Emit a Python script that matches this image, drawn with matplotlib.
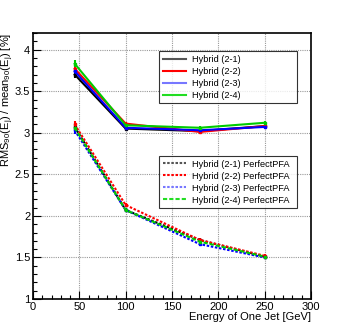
import matplotlib
matplotlib.use("Agg")
import matplotlib.pyplot as plt
from matplotlib.ticker import MultipleLocator, FuncFormatter
from matplotlib.lines import Line2D

plt.rcParams['font.family'] = ['Liberation Sans', 'DejaVu Sans']
plt.rcParams['mathtext.fontset'] = 'custom'
plt.rcParams['mathtext.rm'] = 'Liberation Sans'
plt.rcParams['mathtext.it'] = 'Liberation Sans'
plt.rcParams['mathtext.default'] = 'regular'

energy = [45, 100, 180, 250]

hybrid_labels = ["Hybrid (2-1)", "Hybrid (2-2)", "Hybrid (2-3)", "Hybrid (2-4)"]
hybrid_values = [
    [3.70, 3.05, 3.02, 3.08],
    [3.77, 3.11, 3.01, 3.08],
    [3.74, 3.06, 3.03, 3.07],
    [3.83, 3.09, 3.06, 3.12],
]
hybrid_err = [0.04, 0.02, 0.02, 0.02]

pfa_labels = ["Hybrid (2-1) PerfectPFA", "Hybrid (2-2) PerfectPFA",
              "Hybrid (2-3) PerfectPFA", "Hybrid (2-4) PerfectPFA"]
pfa_values = [
    [3.07, 2.07, 1.71, 1.51],
    [3.10, 2.13, 1.71, 1.52],
    [3.03, 2.07, 1.66, 1.50],
    [3.06, 2.07, 1.69, 1.51],
]
pfa_err = [0.04, 0.02, 0.02, 0.02]

colors = ["black", "red", "blue", "#00cc00"]
legend_colors = ["#555555", "red", "#7777ff", "#22dd22"]
dashes = [(1.2, 0.8), (1.2, 0.8), (1.2, 0.8), (2.0, 1.0)]

fig = plt.figure(figsize=(3.46, 3.33), dpi=100)
ax = fig.add_axes([33/346, 34/333, 278/346, 266/333])

for vals, c in zip(hybrid_values, colors):
    ax.errorbar(energy, vals, yerr=hybrid_err, color=c, lw=1.5, elinewidth=1.5,
                capsize=0, marker='s', ms=2, zorder=3)
for vals, c, d in zip(pfa_values, colors, dashes):
    ax.errorbar(energy, vals, yerr=pfa_err, color=c, lw=1.5, elinewidth=1.5,
                capsize=0, marker='s', ms=2, dashes=d, zorder=3)

ax.set_xlim(0, 300)
ax.set_ylim(1, 4.2)
ax.xaxis.set_major_locator(MultipleLocator(50))
ax.xaxis.set_minor_locator(MultipleLocator(10))
ax.yaxis.set_major_locator(MultipleLocator(0.5))
ax.yaxis.set_minor_locator(MultipleLocator(0.1))
ax.yaxis.set_major_formatter(FuncFormatter(lambda v, p: "%g" % v))
ax.tick_params(which='both', direction='in', top=False, right=False, labelsize=8, pad=2)
ax.tick_params(which='major', length=6, width=0.8)
ax.tick_params(which='minor', length=3, width=0.8)
ax.grid(True, which='major', color='#999999', ls=(0, (1, 1)), lw=0.8)
for s in ax.spines.values():
    s.set_linewidth(1.2)

leg_kw = dict(loc='upper left', mode='expand', fontsize=6.6, frameon=True,
              fancybox=False, borderaxespad=0, handlelength=2.6,
              handletextpad=0.65, labelspacing=0.33, borderpad=0.4,
              edgecolor='black')

h1 = [Line2D([], [], color=c, lw=1.5) for c in legend_colors]
leg1 = ax.legend(h1, hybrid_labels, bbox_to_anchor=(0.453, 0.748, 0.496, 0.184), **leg_kw)
leg1.get_frame().set_linewidth(0.8)
leg1.set_zorder(5)
ax.add_artist(leg1)

h2 = [Line2D([], [], color=c, lw=1.5, dashes=d) for c, d in zip(legend_colors, dashes)]
leg2 = ax.legend(h2, pfa_labels, bbox_to_anchor=(0.453, 0.338, 0.496, 0.200), **leg_kw)
leg2.get_frame().set_linewidth(0.8)
leg2.set_zorder(5)

fig.text(311/346, 1 - 317/333, "Energy of One Jet [GeV]", ha='right', va='center', fontsize=8)
fig.text(8/346, 1 - 33/333, r"RMS$_{90}$(E$_{j}$) / mean$_{90}$(E$_{j}$) [%]",
         rotation=90, ha='center', va='top', fontsize=8)

fig.savefig("out.png", dpi=100)
